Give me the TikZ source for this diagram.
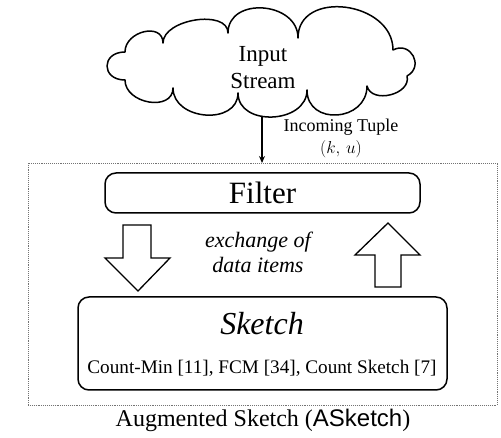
\documentclass[tikz,border=0pt]{standalone}
\usepackage{fontspec}
\setmainfont{Liberation Serif}
\newfontfamily\asans{Liberation Sans}
\usetikzlibrary{arrows.meta}
\begin{document}
\begin{tikzpicture}[x=1pt,y=-1pt,
  outline/.style={draw=black, line width=1.5pt},
  boxstyle/.style={draw=black, line width=1.5pt, rounded corners=11pt, inner sep=0pt},
  hollow/.style={draw=black, line width=1.3pt, fill=white, line join=miter},
  conn/.style={draw=black, line width=1.2pt, -{Stealth[length=7pt,width=6pt]}}]
\useasboundingbox (0,0) rectangle (501,438);

% cloud
\draw[outline, line join=round]
  (125,80) .. controls (101,80) and (101,52) .. (125,52)
  .. controls (125,31) and (163,22) .. (163,43)
  .. controls (163,19) and (228,9) .. (228,33)
  .. controls (228,-3.7) and (298,1.3) .. (298,38)
  .. controls (298,-11) and (393,1) .. (393,50)
  .. controls (410.6,40.6) and (424.6,66.6) .. (407,76)
  .. controls (411.6,94.4) and (371.6,104.4) .. (367,86)
  .. controls (367,122) and (307,126) .. (307,90)
  .. controls (307,124) and (238,127) .. (238,93)
  .. controls (238,125.7) and (173,120.7) .. (173,88)
  .. controls (173,112) and (125,104) .. (125,80) -- cycle;
\node[font=\fontsize{23}{27}\selectfont, align=center] (input) at (263,68) {Input\\Stream};
\coordinate (cloudbottom) at (262,116);

% augmented sketch frame
\node[draw=black!55, densely dotted, line width=0.9pt, minimum width=469pt, minimum height=242pt, inner sep=0pt] (aug) at (262.5,284) {};
\coordinate (tupleend) at (262,163);
\draw[conn] (cloudbottom) -- (tupleend);
\node[font=\fontsize{18}{20}\selectfont] (tuple) at (341,127) {Incoming Tuple};
\node[font=\fontsize{18}{20}\selectfont] (ku) at (341,149) {$(k,\,u)$};

% filter
\node[boxstyle, minimum width=315pt, minimum height=40pt, font=\fontsize{31}{34}\selectfont] (filter) at (262.5,193) {Filter};

% hollow arrows
\draw[hollow] (123,225) -- (151,225) -- (151,258) -- (170,258) -- (138,291) -- (105,258) -- (123,258) -- cycle;
\draw[hollow] (375,287) -- (401,287) -- (401,255) -- (420,255) -- (388,223) -- (355,255) -- (375,255) -- cycle;

\node[font=\fontsize{22}{25}\selectfont\itshape, align=center] (exch) at (258,252) {exchange of\\data items};

% sketch
\node[boxstyle, minimum width=369pt, minimum height=93pt] (sketch) at (262.5,343.5) {};
\node[font=\fontsize{32}{34}\selectfont\itshape] (sketchtitle) at (262,324) {Sketch};
\node[font=\fontsize{19.2}{21}\selectfont] (algos) at (262,368) {Count-Min [11], FCM [34], Count Sketch [7]};

\node[font=\fontsize{24}{26}\selectfont] (caption) at (263,420) {Augmented Sketch ({\asans ASketch})};
\end{tikzpicture}
\end{document}
